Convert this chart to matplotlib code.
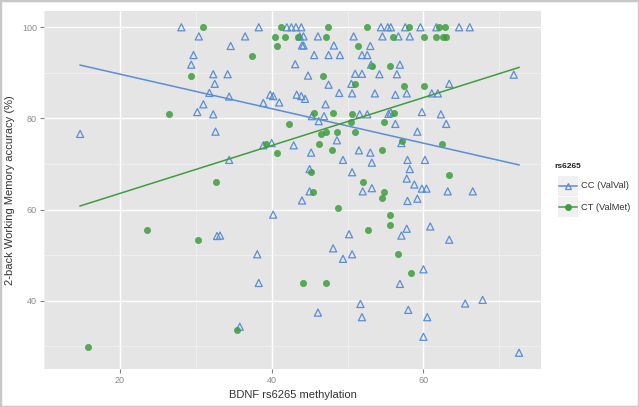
import numpy as np
import matplotlib
matplotlib.use("Agg")
import matplotlib.pyplot as plt
from matplotlib.patches import Rectangle
from matplotlib.lines import Line2D

plt.rcParams['font.family'] = ['Liberation Sans', 'DejaVu Sans']

# ---- data ----
cc_x = [28.1, 30.4, 29.7, 29.4, 32.3, 32.5, 31.8, 31.0, 30.2, 32.3,
        38.3, 42.0, 42.6, 43.2, 43.9, 36.5, 43.7, 44.2, 46.1, 50.8, 34.6, 44.2, 44.0, 48.2, 53.0,
        45.6, 47.5, 49.0, 51.9, 52.6, 43.1, 53.1, 34.2, 44.8, 51.0, 51.9, 47.5, 50.5, 34.4, 39.8,
        40.2, 43.3, 43.9, 44.4, 48.9, 50.6, 38.9, 41.0, 47.1, 45.3, 46.9, 51.6, 52.6, 46.2,
        54.4, 55.3, 55.7, 57.6, 59.6, 61.7, 64.7, 66.1, 54.6, 56.7, 58.2, 54.2, 56.5, 56.9, 63.4,
        53.6, 56.3, 57.8, 61.1, 61.9, 55.4, 55.7, 59.8, 62.3, 56.3, 63.0, 71.9,
        14.76, 32.6, 32.8,
        48.6, 38.9, 40.0, 42.9, 45.2, 51.5, 53.0, 34.4, 49.4, 53.2, 45.0, 50.6, 45.0, 52.0, 53.2,
        44.0, 40.2, 33.2, 50.2, 48.1,
        59.2, 57.1, 57.9, 60.2, 58.2, 57.8, 58.8, 59.8, 60.4, 63.2, 66.5, 57.9, 59.2, 57.8, 60.9,
        57.1, 63.4,
        38.1, 38.3, 49.4, 50.6, 51.7, 51.9, 46.1, 35.8,
        60.0, 56.9, 58.0, 60.5, 60.0, 65.5, 67.8, 72.6]
cc_y = [100, 98, 93.9, 91.8, 89.7, 87.6, 85.6, 83.1, 81.4, 80.9,
        100, 100, 100, 100, 100, 98, 98, 98, 98, 98, 95.9, 96, 96, 96, 95.9,
        93.9, 93.9, 93.9, 93.9, 93.9, 91.9, 91.8, 89.7, 89.4, 89.8, 89.8, 87.4, 87.6, 84.8, 85.2,
        84.9, 85.2, 84.9, 84.3, 85.6, 85.5, 83.4, 83.5, 83.1, 80.5, 80.5, 80.9, 80.9, 79.4,
        100, 100, 100, 100, 100, 100, 100, 100, 98, 98, 98, 89.7, 89.7, 91.8, 87.6,
        85.5, 85.2, 85.5, 85.5, 85.5, 81.0, 81.3, 81.4, 80.9, 78.8, 78.8, 89.6,
        76.6, 77.1, 54.2,
        75.2, 74.1, 74.6, 74.1, 72.5, 73.0, 72.5, 70.9, 70.9, 70.3, 68.9, 68.2, 64.0, 64.0, 64.7,
        62.0, 58.9, 54.3, 54.6, 51.5,
        77.1, 74.6, 70.9, 70.9, 68.9, 66.8, 65.5, 64.6, 64.6, 64.0, 64.0, 61.9, 62.4, 55.8, 56.3,
        54.3, 53.4,
        50.2, 43.9, 49.2, 50.2, 39.3, 36.4, 37.4, 34.3,
        46.9, 43.7, 38.0, 36.4, 32.1, 39.4, 40.2, 28.6]

ct_x = [30.9, 29.4, 26.5,
        41.2, 47.4, 52.6, 40.5, 41.7, 43.5, 47.2, 40.7, 51.4, 37.4, 46.7, 51.0, 45.6, 48.1, 50.6,
        42.3, 50.5, 53.2,
        58.1, 62.1, 62.8, 56.0, 60.1, 61.7, 62.6, 63.0, 55.6, 57.4, 60.1, 56.1, 54.8,
        32.7, 23.6, 30.3,
        46.5, 47.2, 48.6, 51.0, 46.3, 39.2, 47.9, 40.7, 45.2, 52.1, 45.4, 48.8, 52.7,
        57.2, 62.4, 54.6, 63.4, 54.8, 54.6, 55.6, 55.6,
        15.8, 44.1, 47.2, 35.4, 56.6, 58.4]
ct_y = [100, 89.3, 80.9,
        100, 100, 100, 97.9, 97.9, 97.9, 97.9, 95.9, 95.9, 93.8, 89.3, 87.5, 81.3, 81.3, 80.9,
        78.7, 79.3, 91.6,
        100, 100, 100, 97.9, 97.9, 97.9, 97.9, 97.9, 91.6, 87.2, 87.2, 81.2, 79.2,
        66.0, 55.5, 53.3,
        76.6, 77.1, 77.1, 77.1, 74.5, 74.4, 73.0, 72.5, 68.2, 66.0, 63.8, 60.4, 55.5,
        75.0, 74.5, 73.0, 67.5, 63.9, 62.6, 58.8, 56.6,
        29.9, 43.9, 43.9, 33.6, 50.2, 46.0]

# linear fits (intercept, slope)
cc_fit = (97.29, -0.3786)
ct_fit = (53.04, 0.5256)

series_labels = ["CC (ValVal)", "CT (ValMet)"]
legend_title = "rs6265"
x_ticks = [20, 40, 60]
y_ticks = [40, 60, 80, 100]

blue = '#5B8ED6'
green = '#3E9E3E'

fig = plt.figure(figsize=(6.39, 4.07), dpi=100)
ax = fig.add_axes([44/639, 1-369/407, (541-44)/639, (369-11)/407])
ax.set_facecolor('#E5E5E5')
for s in ax.spines.values():
    s.set_visible(False)

allx = np.array(cc_x + ct_x)
xmin, xmax = allx.min(), allx.max()
ally = np.array(cc_y + ct_y)
xr = xmax - xmin
yr = ally.max() - ally.min()
ax.set_xlim(xmin - 0.05*xr, xmax + 0.05*xr)
ax.set_ylim(ally.min() - 0.05*yr, ally.max() + 0.05*yr)

ax.set_xticks(x_ticks)
ax.set_yticks(y_ticks)
ax.set_xticks([10, 30, 50, 70], minor=True)
ax.set_yticks([30, 50, 70, 90], minor=True)
ax.grid(which='major', color='white', linewidth=1.0)
ax.grid(which='minor', color='#F2F2F2', linewidth=0.5)
ax.set_axisbelow(True)
ax.tick_params(which='major', length=3, width=0.8, color='#7F7F7F', labelcolor='#8C8C8C',
               labelsize=6.5, pad=2)
ax.tick_params(which='minor', length=0)

ax.scatter(cc_x, cc_y, marker='^', s=26, facecolors='none', edgecolors=blue, linewidths=0.9, zorder=3)
ax.scatter(ct_x, ct_y, marker='o', s=20, facecolors=green, edgecolors=green, alpha=0.85,
           linewidths=0.5, zorder=3)

xx = np.array([xmin, xmax])
ax.plot(xx, cc_fit[0] + cc_fit[1]*xx, color=blue, linewidth=1.1, zorder=4)
ax.plot(xx, ct_fit[0] + ct_fit[1]*xx, color=green, linewidth=1.1, zorder=4)

ax.set_xlabel("BDNF rs6265 methylation", fontsize=8, color='#333333', labelpad=4)
ax.set_ylabel("2-back Working Memory accuracy (%)", fontsize=8, color='#333333', labelpad=5)

# legend (manual, ggplot style)
W, H = 639, 407
fig.text(554/W, 1-167/H, legend_title, fontsize=6, fontweight='bold', color='#222222',
         va='center', ha='left')
for i, (lab, col, mk) in enumerate([(series_labels[0], blue, '^'), (series_labels[1], green, 'o')]):
    yc = 186 + i*21
    fig.patches.append(Rectangle((558/W, 1-(yc+10)/H), 20/W, 20/H, transform=fig.transFigure,
                                 facecolor='#F0F0F0', edgecolor='none'))
    fig.lines.append(Line2D([559/W, 577/W], [1-yc/H, 1-yc/H], transform=fig.transFigure,
                            color=col, linewidth=1.1))
    if mk == '^':
        fig.lines.append(Line2D([568/W], [1-yc/H], transform=fig.transFigure, marker='^',
                                markersize=4.5, markerfacecolor='none', markeredgecolor=col,
                                markeredgewidth=0.9, linestyle='none'))
    else:
        fig.lines.append(Line2D([568/W], [1-yc/H], transform=fig.transFigure, marker='o',
                                markersize=4, markerfacecolor=col, markeredgecolor=col,
                                linestyle='none'))
    fig.text(581/W, 1-yc/H, lab, fontsize=6.7, color='#333333', va='center', ha='left')

# outer frame
fig.patches.append(Rectangle((0, 0), 1, 1, transform=fig.transFigure, facecolor='none',
                             edgecolor='#C8C8C8', linewidth=2.5))

fig.savefig("out.png", dpi=100)
